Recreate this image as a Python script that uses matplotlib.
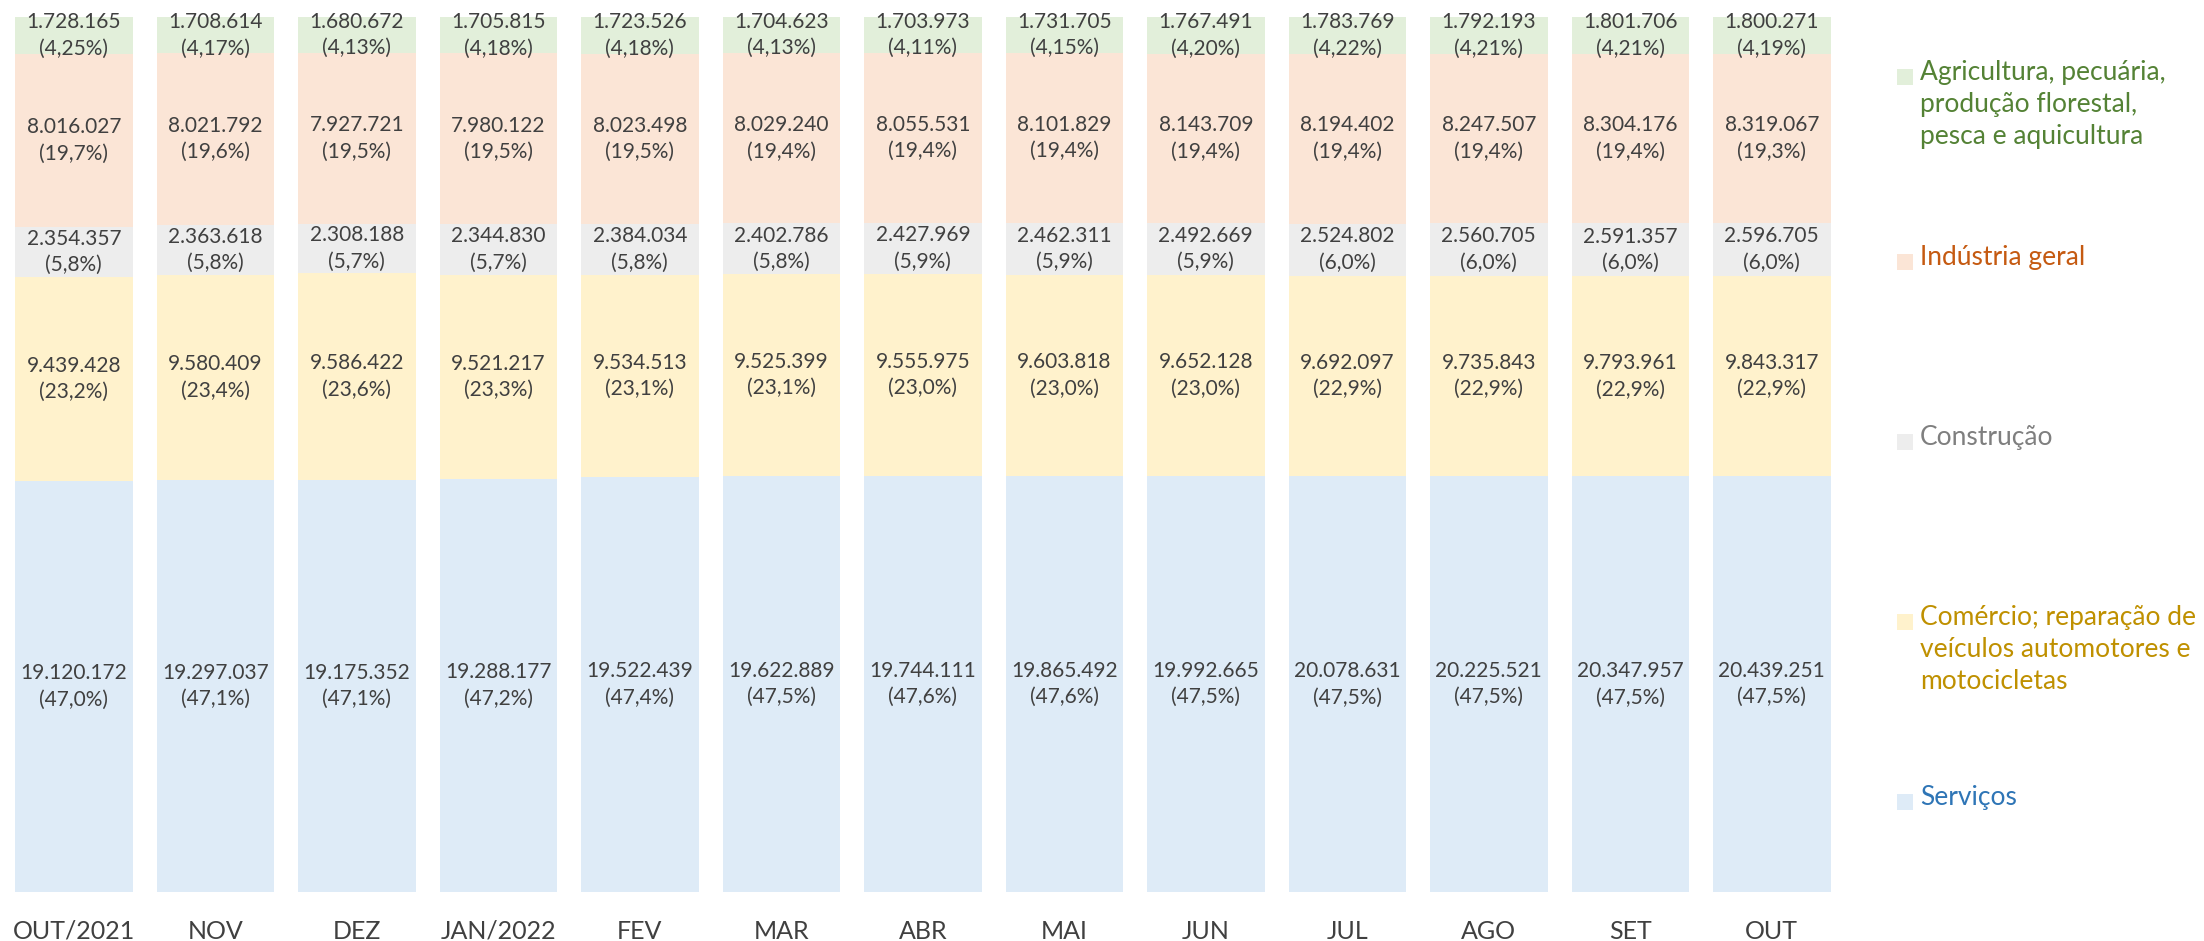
import numpy as np
import matplotlib.pyplot as plt
from matplotlib.patches import Rectangle

# months on the x axis
months = ["OUT/2021", "NOV", "DEZ", "JAN/2022", "FEV", "MAR", "ABR",
          "MAI", "JUN", "JUL", "AGO", "SET", "OUT"]

# employment by sector (bottom to top of the stack)
servicos = [19120172, 19297037, 19175352, 19288177, 19522439, 19622889, 19744111,
            19865492, 19992665, 20078631, 20225521, 20347957, 20439251]
comercio = [9439428, 9580409, 9586422, 9521217, 9534513, 9525399, 9555975,
            9603818, 9652128, 9692097, 9735843, 9793961, 9843317]
construcao = [2354357, 2363618, 2308188, 2344830, 2384034, 2402786, 2427969,
              2462311, 2492669, 2524802, 2560705, 2591357, 2596705]
industria = [8016027, 8021792, 7927721, 7980122, 8023498, 8029240, 8055531,
             8101829, 8143709, 8194402, 8247507, 8304176, 8319067]
agricultura = [1728165, 1708614, 1680672, 1705815, 1723526, 1704623, 1703973,
               1731705, 1767491, 1783769, 1792193, 1801706, 1800271]

# shares as printed on the chart
pct_servicos = [47.0, 47.1, 47.1, 47.2, 47.4, 47.5, 47.6, 47.6, 47.5, 47.5, 47.5, 47.5, 47.5]
pct_comercio = [23.2, 23.4, 23.6, 23.3, 23.1, 23.1, 23.0, 23.0, 23.0, 22.9, 22.9, 22.9, 22.9]
pct_construcao = [5.8, 5.8, 5.7, 5.7, 5.8, 5.8, 5.9, 5.9, 5.9, 6.0, 6.0, 6.0, 6.0]
pct_industria = [19.7, 19.6, 19.5, 19.5, 19.5, 19.4, 19.4, 19.4, 19.4, 19.4, 19.4, 19.4, 19.3]
pct_agricultura = [4.25, 4.17, 4.13, 4.18, 4.18, 4.13, 4.11, 4.15, 4.20, 4.22, 4.21, 4.21, 4.19]

series_names = ["Serviços",
                "Comércio; reparação de\nveículos automotores e\nmotocicletas",
                "Construção",
                "Indústria geral",
                "Agricultura, pecuária,\nprodução florestal,\npesca e aquicultura"]
series_vals = [servicos, comercio, construcao, industria, agricultura]
series_pcts = [pct_servicos, pct_comercio, pct_construcao, pct_industria, pct_agricultura]
pct_decimals = [1, 1, 1, 1, 2]

fill_colors = ["#DEEBF7", "#FFF2CC", "#EDEDED", "#FBE5D6", "#E2EFDA"]
text_colors = ["#2E75B6", "#BF9000", "#7F7F7F", "#C55A11", "#548235"]
label_color = "#404040"

plt.rcParams['font.family'] = ['Lato', 'DejaVu Sans']

fig = plt.figure(figsize=(22.04, 9.41), dpi=100)
ax = fig.add_axes([0.0014, 0.052, 0.8346, 0.930])

x = np.arange(len(months))
data = np.array(series_vals, dtype=float)
totals = data.sum(axis=0)
shares = data / totals * 100

def fmt_int(v):
    return f"{v:,}".replace(",", ".")

def fmt_pct(p, d):
    return "(" + f"{p:.{d}f}".replace(".", ",") + "%)"

bottom = np.zeros(len(months))
for k in range(len(series_vals)):
    ax.bar(x, shares[k], bottom=bottom, width=0.83, color=fill_colors[k], linewidth=0)
    for i in range(len(months)):
        yc = bottom[i] + shares[k][i] / 2
        txt = fmt_int(series_vals[k][i]) + "\n" + fmt_pct(series_pcts[k][i], pct_decimals[k])
        ax.text(x[i], yc, txt, ha="center", va="center", fontsize=15,
                color=label_color, linespacing=1.4)
    bottom += shares[k]

ax.set_xlim(-0.5, len(months) - 0.5)
ax.set_ylim(0, 100)
ax.set_xticks(x)
ax.set_xticklabels(months, fontsize=18, color=label_color)
ax.tick_params(axis="x", length=0, pad=20)
ax.set_yticks([])
for s in ax.spines.values():
    s.set_visible(False)

# legend drawn by hand, evenly spaced down the right side
leg_y = [802, 622, 442, 262, 77]  # pixel centres of first line (from top)
W, H = 2204.0, 941.0
for k in range(len(series_names)):
    yc = 1 - leg_y[k] / H
    fig.patches.append(Rectangle((1897 / W, yc - 8 / H), 16 / W, 16 / H,
                                 transform=fig.transFigure, color=fill_colors[k],
                                 linewidth=0))
    fig.text(1920 / W, yc + 17 / H, series_names[k], ha="left", va="top",
             fontsize=19, color=text_colors[k], linespacing=1.36)

fig.savefig("out.png", dpi=100)
